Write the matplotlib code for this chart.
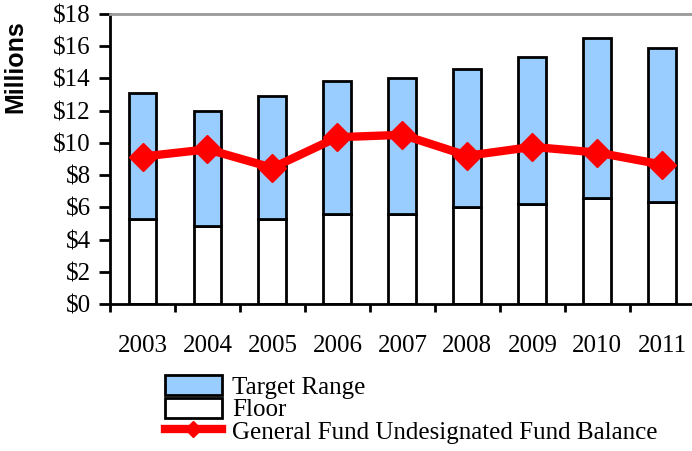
import matplotlib.pyplot as plt
import numpy as np

years = ['2003', '2004', '2005', '2006', '2007', '2008', '2009', '2010', '2011']
floor = [5.25, 4.85, 5.25, 5.6, 5.6, 6.0, 6.2, 6.55, 6.35]
target_top = [13.1, 12.0, 12.9, 13.85, 14.05, 14.6, 15.35, 16.5, 15.9]
fund_balance = [9.15, 9.6, 8.45, 10.35, 10.5, 9.2, 9.75, 9.4, 8.65]

target_range = [t - f for t, f in zip(target_top, floor)]

serif = ['Liberation Serif', 'DejaVu Serif']

x = np.arange(len(years))
width = 0.43

fig = plt.figure(figsize=(6.92, 4.51), dpi=100)
ax = fig.add_axes([0.159, 0.326, 0.845, 0.643])

bars_floor = ax.bar(x, floor, width, color='white', edgecolor='black',
                    linewidth=2, zorder=2)
bars_target = ax.bar(x, target_range, width, bottom=floor, color='#99CCFF',
                     edgecolor='black', linewidth=2, zorder=2)
line, = ax.plot(x, fund_balance, color='#FF0000', linewidth=6, marker='D',
                markersize=14, zorder=3)

ax.set_xlim(-0.5, 8.5)
ax.set_ylim(0, 18)

# y axis
ax.set_yticks(np.arange(0, 19, 2))
ax.set_yticklabels(['$%d' % v for v in range(0, 19, 2)], fontfamily=serif, fontsize=18)
ax.tick_params(axis='y', direction='out', length=8, width=2, pad=6)
ax.set_ylabel('Millions', fontfamily='Liberation Sans', fontweight='bold', fontsize=18)
ax.yaxis.set_label_coords(-0.142, 0.817)

# x axis: tick marks at category borders, labels centred
ax.set_xticks(np.arange(-0.5, 9, 1))
ax.set_xticklabels([])
ax.tick_params(axis='x', which='major', direction='out', length=6, width=2)
ax.set_xticks(x, minor=True)
ax.set_xticklabels(years, minor=True, fontfamily=serif, fontsize=18)
ax.tick_params(axis='x', which='minor', length=0, pad=22)

for s in ['left', 'bottom']:
    ax.spines[s].set_linewidth(2)
ax.spines['right'].set_visible(False)
ax.spines['top'].set_color('#999999')
ax.spines['top'].set_linewidth(2)

fig.legend([bars_target, bars_floor, line],
           ['Target Range', 'Floor', 'General Fund Undesignated Fund Balance'],
           loc='upper left', bbox_to_anchor=(0.238, 0.168), frameon=False,
           prop={'family': serif, 'size': 18}, borderpad=0, borderaxespad=0,
           labelspacing=-0.05, handlelength=2.3, handleheight=0.85,
           handletextpad=0.4, markerscale=0.6)

fig.savefig('out.png', dpi=100)
